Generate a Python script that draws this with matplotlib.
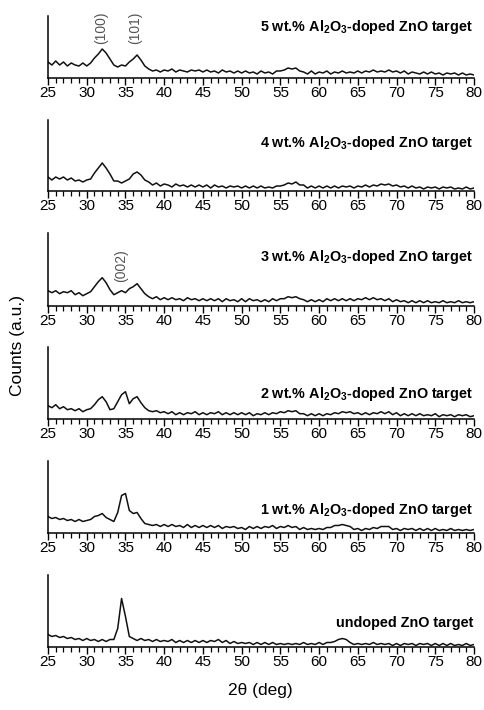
import numpy as np
from matplotlib import pyplot as plt
from matplotlib.ticker import MultipleLocator

plt.rcParams['font.family'] = ['Liberation Sans', 'DejaVu Sans']
plt.rcParams['mathtext.default'] = 'regular'

# 2theta grid, 25..80 deg in 0.5 deg steps
two_theta = np.arange(25.0, 80.01, 0.5)

# counts (a.u.), top to bottom
wt5 = [16, 13, 17, 13, 16, 12, 15, 13, 12, 15, 12,
       15, 20, 24, 29, 25, 19, 13, 11, 13, 12,
       16, 19, 23, 18, 12, 9, 7, 8, 6, 8,
       7, 9, 6, 8, 7, 6, 8, 7, 8, 6,
       8, 6, 7, 5, 8, 6, 7, 5, 7, 5,
       7, 5, 6, 4, 7, 5, 6, 4, 7, 7,
       8, 10, 9, 10, 7, 6, 4, 7, 4, 6,
       5, 7, 4, 6, 5, 7, 5, 6, 5, 7,
       5, 7, 6, 8, 6, 7, 6, 8, 6, 7,
       5, 7, 4, 6, 5, 4, 6, 4, 6, 4,
       5, 3, 5, 4, 5, 3, 5, 3, 4, 3]
wt4 = [14, 11, 14, 12, 14, 11, 13, 10, 11, 9, 11,
       12, 18, 23, 28, 23, 17, 10, 10, 8, 10,
       12, 17, 19, 16, 11, 9, 6, 8, 5, 7,
       6, 4, 7, 5, 6, 4, 6, 4, 6, 4,
       6, 3, 6, 4, 5, 3, 5, 4, 5, 3,
       5, 3, 5, 3, 5, 3, 4, 3, 5, 5,
       6, 8, 7, 9, 6, 6, 3, 5, 3, 5,
       3, 5, 3, 5, 3, 5, 4, 5, 3, 5,
       4, 6, 4, 6, 5, 7, 6, 7, 5, 6,
       4, 5, 3, 5, 3, 4, 2, 4, 3, 4,
       2, 4, 3, 4, 2, 3, 2, 4, 2, 3]
wt3 = [15, 13, 15, 12, 14, 13, 15, 11, 13, 10, 12,
       14, 19, 24, 28, 23, 16, 11, 13, 15, 13,
       17, 19, 22, 17, 12, 9, 7, 9, 6, 8,
       6, 8, 6, 7, 5, 8, 6, 7, 5, 7,
       5, 7, 5, 7, 4, 7, 5, 6, 4, 7,
       4, 7, 5, 6, 4, 6, 4, 7, 5, 7,
       7, 9, 8, 9, 7, 6, 4, 6, 4, 6,
       4, 7, 5, 7, 5, 7, 5, 7, 5, 7,
       6, 8, 6, 8, 6, 7, 5, 7, 4, 6,
       4, 5, 3, 5, 3, 5, 3, 5, 3, 4,
       3, 5, 3, 4, 3, 5, 3, 4, 3, 4]
wt2 = [13, 11, 14, 10, 12, 9, 10, 8, 10, 7, 9,
       10, 14, 19, 22, 17, 9, 10, 17, 24, 27,
       15, 20, 22, 16, 11, 8, 7, 8, 6, 7,
       5, 7, 4, 6, 4, 6, 5, 7, 4, 6,
       4, 6, 5, 7, 4, 6, 4, 6, 4, 6,
       4, 6, 3, 5, 4, 6, 4, 6, 5, 7,
       6, 8, 7, 8, 5, 5, 3, 5, 3, 5,
       3, 5, 4, 6, 5, 7, 6, 7, 5, 6,
       4, 6, 4, 6, 5, 7, 5, 7, 4, 6,
       3, 5, 3, 5, 3, 5, 3, 4, 3, 5,
       2, 4, 3, 4, 2, 4, 3, 4, 2, 3]
wt1 = [16, 14, 15, 13, 14, 12, 13, 11, 13, 11, 12,
       13, 16, 17, 19, 15, 13, 11, 20, 37, 39,
       22, 19, 20, 14, 9, 8, 7, 8, 6, 8,
       6, 8, 6, 7, 5, 8, 5, 7, 5, 7,
       5, 7, 5, 7, 4, 6, 5, 6, 4, 5,
       3, 6, 4, 6, 4, 6, 5, 7, 4, 6,
       5, 7, 5, 6, 3, 5, 3, 4, 3, 4,
       3, 5, 5, 7, 7, 8, 7, 6, 3, 4,
       2, 4, 3, 5, 4, 6, 6, 6, 3, 4,
       2, 4, 3, 4, 2, 4, 2, 4, 2, 4,
       2, 3, 2, 4, 2, 3, 2, 3, 2, 3]
undoped = [12, 10, 11, 9, 10, 8, 9, 7, 8, 6, 8,
           6, 7, 5, 7, 5, 7, 7, 18, 48, 30,
           10, 8, 6, 8, 6, 7, 5, 7, 5, 6,
           5, 7, 4, 6, 4, 6, 4, 6, 4, 6,
           4, 6, 5, 7, 4, 6, 3, 5, 3, 4,
           3, 4, 2, 4, 2, 4, 2, 4, 2, 3,
           2, 3, 2, 3, 2, 4, 2, 3, 2, 4,
           2, 4, 4, 5, 7, 8, 7, 4, 2, 3,
           2, 3, 2, 4, 2, 3, 2, 3, 1, 3,
           1, 3, 2, 3, 1, 3, 2, 3, 1, 3,
           1, 3, 1, 3, 1, 2, 1, 3, 1, 2]

series = [wt5, wt4, wt3, wt2, wt1, undoped]
labels = [r'5 wt.% Al$_2$O$_3$-doped ZnO target',
          r'4 wt.% Al$_2$O$_3$-doped ZnO target',
          r'3 wt.% Al$_2$O$_3$-doped ZnO target',
          r'2 wt.% Al$_2$O$_3$-doped ZnO target',
          r'1 wt.% Al$_2$O$_3$-doped ZnO target',
          'undoped ZnO target']
label_y = [47, 44, 45, 21, 18.5, 19.5]

# (panel index, 2theta, height, text)
peaks = [(0, 31.8, 50, '(100)'), (0, 36.3, 50, '(101)'), (2, 34.5, 40, '(002)')]

# panel pixel extents (top, bottom)
W, H = 484, 710
boxes = [(16, 78), (120, 191), (233, 305.7), (347, 418.7), (461, 532.5), (575, 646.5)]

fig = plt.figure(figsize=(W / 100, H / 100), dpi=100)
axes = []
for i, (top, bot) in enumerate(boxes):
    ax = fig.add_axes([48 / W, 1 - bot / H, 426 / W, (bot - top) / H])
    ax.plot(two_theta, series[i], color='#111111', lw=1.1)
    ax.set_xlim(25, 80)
    ax.set_ylim(0, bot - top)
    for s in ['top', 'right']:
        ax.spines[s].set_visible(False)
    ax.spines['left'].set_linewidth(1.1)
    ax.spines['bottom'].set_linewidth(1.1)
    ax.set_yticks([])
    ax.xaxis.set_major_locator(MultipleLocator(5))
    ax.xaxis.set_minor_locator(MultipleLocator(1))
    ax.tick_params(axis='x', which='major', direction='out', length=5, width=1, pad=1, labelsize=11)
    ax.tick_params(axis='x', which='minor', direction='out', length=3.5, width=0.9)
    ax.text(79.9, label_y[i], labels[i], ha='right', va='baseline',
            fontsize=10.4, fontweight='bold')
    axes.append(ax)

for i, x, y, t in peaks:
    axes[i].text(x, y, t, rotation=90, ha='center', va='center', fontsize=10, color='#555555')

fig.text(18 / W, 1 - 345 / H, 'Counts (a.u.)', rotation=90, ha='center', va='center', fontsize=12.5)
fig.text(260 / W, 1 - 690 / H, '2θ (deg)', ha='center', va='center', fontsize=12.5)

plt.savefig('out.png', dpi=100)
